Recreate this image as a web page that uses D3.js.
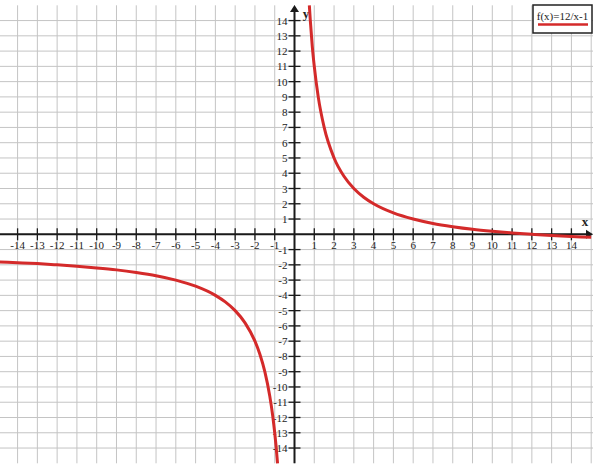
<!DOCTYPE html>
<html><head><meta charset="utf-8">
<script src="https://cdn.jsdelivr.net/npm/d3@7"></script>
<style>body{margin:0;background:#fff}svg{display:block}</style>
</head><body><svg id="c" width="600" height="471"></svg>
<script>
// Data
const xTicks = [-14,-13,-12,-11,-10,-9,-8,-7,-6,-5,-4,-3,-2,-1,1,2,3,4,5,6,7,8,9,10,11,12,13,14];
const yTicks = [-14,-13,-12,-11,-10,-9,-8,-7,-6,-5,-4,-3,-2,-1,1,2,3,4,5,6,7,8,9,10,11,12,13,14];
const rightX = [0.75,0.8,0.9,1,1.2,1.5,2,2.5,3,3.5,4,5,6,7,8,9,10,11,12,13,14,15];
const rightY = [15,14,12.3,11,9,7,5,3.8,3,2.43,2,1.4,1,0.71,0.5,0.33,0.2,0.09,0,-0.08,-0.14,-0.2];
const leftX = [-15,-14,-13,-12,-11,-10,-9,-8,-7,-6,-5,-4,-3.5,-3,-2.5,-2,-1.75,-1.5,-1.25,-1.1,-1,-0.93,-0.857];
const leftY = [-1.8,-1.86,-1.92,-2,-2.09,-2.2,-2.33,-2.5,-2.71,-3,-3.4,-4,-4.43,-5,-5.8,-7,-7.86,-9,-10.6,-11.9,-13,-13.9,-15];
const legendLabel = "f(x)=12/x-1";

const svg = d3.select("#c");
const x = d3.scaleLinear().domain([-15,15]).range([-2.2,591.2]);
const y = d3.scaleLinear().domain([-15,15]).range([463.3,5.3]);
const gridX = d3.range(-14,16);
const gridY = d3.range(-14,15);

// grid
svg.append("g").selectAll("line").data(gridX).join("line")
  .attr("x1",d=>x(d)).attr("x2",d=>x(d)).attr("y1",y(15)).attr("y2",y(-15))
  .attr("stroke","#c4c4c4").attr("stroke-width",1);
svg.append("g").selectAll("line").data(gridY).join("line")
  .attr("x1",0).attr("x2",593).attr("y1",d=>y(d)).attr("y2",d=>y(d))
  .attr("stroke","#c4c4c4").attr("stroke-width",1);

// axes
const axCol = "#1a1a1a";
svg.append("line").attr("x1",0).attr("x2",588).attr("y1",y(0)).attr("y2",y(0))
  .attr("stroke",axCol).attr("stroke-width",2);
svg.append("path").attr("d",`M${593},${y(0)} L${586},${y(0)-4.5} L${586},${y(0)+4.5}Z`).attr("fill",axCol);
svg.append("line").attr("x1",x(0)).attr("x2",x(0)).attr("y1",10).attr("y2",y(-15))
  .attr("stroke",axCol).attr("stroke-width",2);
svg.append("path").attr("d",`M${x(0)},${5} L${x(0)-4.5},${12} L${x(0)+4.5},${12}Z`).attr("fill",axCol);

// ticks
svg.append("g").selectAll("line").data(xTicks).join("line")
  .attr("x1",d=>x(d)).attr("x2",d=>x(d)).attr("y1",y(0)-6).attr("y2",y(0)+6)
  .attr("stroke",axCol).attr("stroke-width",1.3);
svg.append("g").selectAll("line").data(yTicks).join("line")
  .attr("x1",x(0)-6).attr("x2",x(0)+6).attr("y1",d=>y(d)).attr("y2",d=>y(d))
  .attr("stroke",axCol).attr("stroke-width",1.3);

const font = "'Liberation Serif','DejaVu Serif',serif";
svg.append("g").selectAll("text").data(xTicks).join("text")
  .attr("x",d=>x(d)).attr("y",y(0)+15).attr("text-anchor","middle")
  .attr("font-family",font).attr("font-size",11).attr("fill","#222")
  .text(d=>d<0?"-"+Math.abs(d):d);
svg.append("g").selectAll("text").data(yTicks).join("text")
  .attr("x",x(0)-7).attr("y",d=>y(d)+4).attr("text-anchor","end")
  .attr("font-family",font).attr("font-size",11).attr("fill","#222")
  .text(d=>d<0?"-"+Math.abs(d):d);

svg.append("text").attr("x",585).attr("y",226).attr("text-anchor","middle")
  .attr("font-family",font).attr("font-size",13).attr("font-weight","bold").attr("fill","#222").text("x");
svg.append("text").attr("x",306).attr("y",18).attr("text-anchor","middle")
  .attr("font-family",font).attr("font-size",13).attr("font-weight","bold").attr("fill","#222").text("y");

// curve
const line = d3.line().x(d=>x(d[0])).y(d=>y(d[1])).curve(d3.curveMonotoneX);
const red = "#d42a2a";
svg.append("path").attr("d",line(d3.zip(rightX,rightY))).attr("fill","none")
  .attr("stroke",red).attr("stroke-width",3);
svg.append("path").attr("d",line(d3.zip(leftX,leftY))).attr("fill","none")
  .attr("stroke",red).attr("stroke-width",3);

// legend
svg.append("rect").attr("x",533).attr("y",5).attr("width",59).attr("height",28)
  .attr("fill","#fff").attr("stroke","#222").attr("stroke-width",1.5);
svg.append("text").attr("x",562.5).attr("y",20).attr("text-anchor","middle")
  .attr("font-family",font).attr("font-size",11).attr("fill","#222").text(legendLabel);
svg.append("line").attr("x1",538).attr("x2",588).attr("y1",24.5).attr("y2",24.5)
  .attr("stroke",red).attr("stroke-width",2.5);
</script></body></html>
